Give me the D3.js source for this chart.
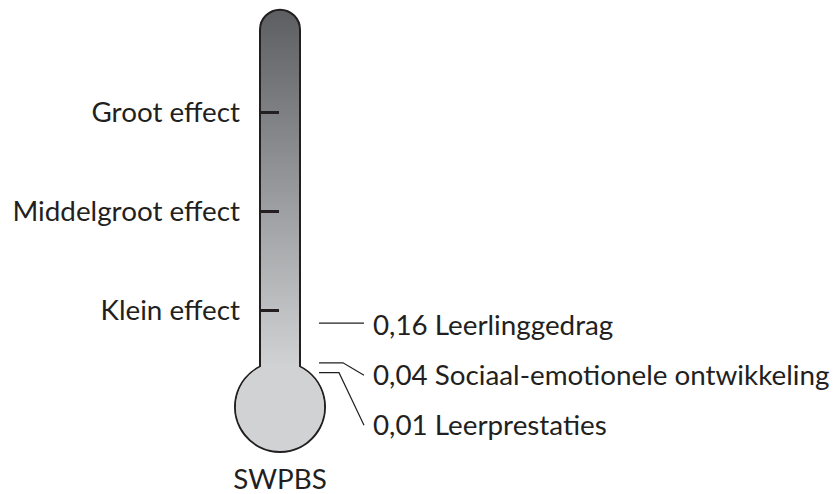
<!doctype html>
<html lang="nl">
  <head>
    <meta charset="utf-8">
    <title>SWPBS effect thermometer</title>
    <script src="https://d3js.org/d3.v7.min.js"></script>
    <style>
      body { margin: 0; background: #fff; }
      text { font-family: Lato, "Open Sans", sans-serif; fill: #231f20; }
    </style>
  </head>
  <body>
    <div id="holder"></div>
  <script>
      // benchmark effect sizes (left side of the thermometer)
      const effectLabels = ['Klein effect', 'Middelgroot effect', 'Groot effect'];
      const effectValues = [0.2, 0.5, 0.8];

      // SWPBS outcomes (right side)
      const outcomeLabels = ['Leerlinggedrag', 'Sociaal-emotionele ontwikkeling', 'Leerprestaties'];
      const outcomeValues = [0.16, 0.04, 0.01];

      const programName = 'SWPBS';

      const w = 839, h = 494;
      const cx = 280;          // thermometer centre
      const tubeHalf = 20;
      const bulbR = 45;
      const fontSize = 27.8;

      const nl = d3.formatLocale({decimal: ',', thousands: '.', grouping: [3], currency: ['€', '']});
      const fmt = nl.format('.2f');

      const y = d3.scaleLinear()
          .domain([0, 0.8])
          .range([376, 112]);

      const svg = d3.select('#holder')
          .append('svg')
          .attr('width', w)
          .attr('height', h);

      const tubeTop = y(1.11);
      const bulbCy = 407;
      const joinY = bulbCy - Math.sqrt(bulbR * bulbR - tubeHalf * tubeHalf);

      // gradient for the tube
      const defs = svg.append('defs');
      const grad = defs.append('linearGradient')
          .attr('id', 'tubeGrad')
          .attr('gradientUnits', 'userSpaceOnUse')
          .attr('x1', 0).attr('x2', 0)
          .attr('y1', tubeTop).attr('y2', joinY);
      grad.append('stop').attr('offset', '0%').attr('stop-color', '#5d5e62');
      grad.append('stop').attr('offset', '100%').attr('stop-color', '#d1d2d4');

      // outline of tube + bulb
      const body = 'M' + (cx - tubeHalf) + ',' + (tubeTop + tubeHalf) +
          ' A' + tubeHalf + ',' + tubeHalf + ' 0 0 1 ' + (cx + tubeHalf) + ',' + (tubeTop + tubeHalf) +
          ' L' + (cx + tubeHalf) + ',' + joinY +
          ' A' + bulbR + ',' + bulbR + ' 0 1 1 ' + (cx - tubeHalf) + ',' + joinY + ' Z';

      svg.append('path')
          .attr('d', body)
          .attr('fill', 'url(#tubeGrad)')
          .attr('stroke', '#231f20')
          .attr('stroke-width', 2);

      // bulb fill on top so it stays flat
      svg.append('path')
          .attr('d', 'M' + (cx + tubeHalf - 1) + ',' + joinY +
                ' A' + (bulbR - 1) + ',' + (bulbR - 1) + ' 0 1 1 ' + (cx - tubeHalf + 1) + ',' + joinY + ' Z')
          .attr('fill', '#d1d2d4');

      // ticks + labels for benchmarks
      const yAxis = d3.axisLeft(y)
          .tickValues(effectValues)
          .tickSize(0)
          .tickFormat(function(d, i) { return effectLabels[i]; })
          .tickPadding(20);

      const ax = svg.append('g')
          .attr('transform', 'translate(' + (cx - tubeHalf) + ',0)')
          .call(yAxis);
      ax.select('.domain').remove();
      ax.attr('font-family', null).attr('font-size', null);
      ax.selectAll('.tick line')
          .attr('x2', 19)
          .attr('stroke', '#231f20')
          .attr('stroke-width', 3);
      ax.selectAll('.tick text')
          .attr('font-size', fontSize)
          .attr('dy', '0.35em')
          .attr('fill', '#231f20');

      // outcome leaders + labels
      const lineX0 = 319, lineX1 = 364;
      const kneeX = [null, 343, 339];
      const labelY = outcomeValues.map(function(v, i) { return y(outcomeValues[0]) + 2 + i * 50; });

      outcomeValues.forEach(function(v, i) {
          const yy = y(v);
          let pts;
          if (i === 0) {
              pts = [[lineX0, yy], [lineX1, yy]];
          } else {
              pts = [[lineX0, yy], [kneeX[i], yy], [lineX1, labelY[i]]];
          }
          svg.append('path')
              .attr('d', d3.line()(pts))
              .attr('fill', 'none')
              .attr('stroke', '#231f20')
              .attr('stroke-width', 1.2);

          svg.append('text')
              .attr('x', 373)
              .attr('y', labelY[i])
              .attr('dy', '0.35em')
              .attr('font-size', fontSize)
              .text(fmt(v) + ' ' + outcomeLabels[i]);
      });

      svg.append('text')
          .attr('x', cx)
          .attr('y', 479)
          .attr('dy', '0.35em')
          .attr('text-anchor', 'middle')
          .attr('font-size', fontSize)
          .text(programName);
  </script>
  </body>
</html>
